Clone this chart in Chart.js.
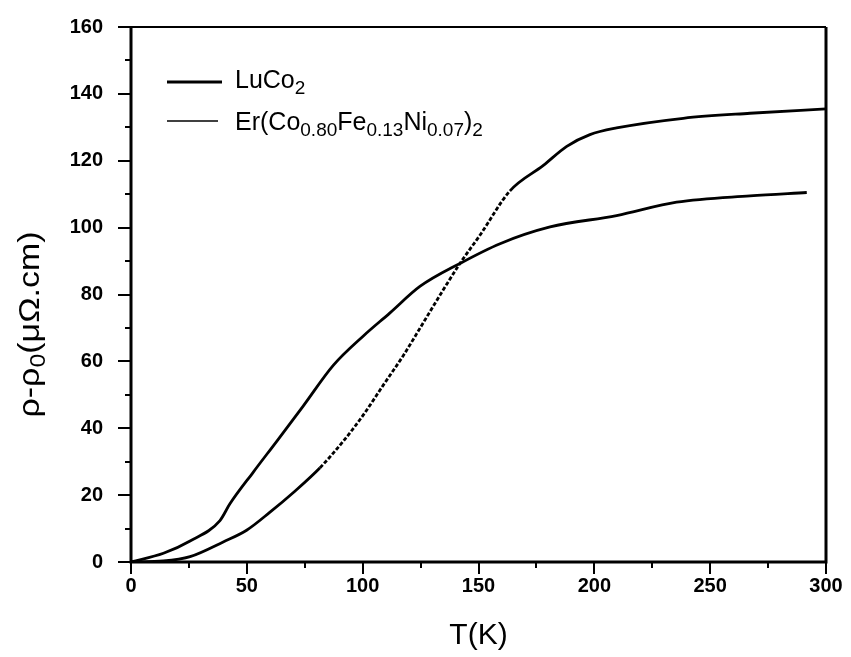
<!DOCTYPE html>
<html>
<head>
<meta charset="utf-8">
<script src="https://cdn.jsdelivr.net/npm/chart.js@4.4.0/dist/chart.umd.min.js"></script>
<style>
  html, body { margin: 0; padding: 0; background: #fff; }
  canvas { display: block; }
</style>
</head>
<body>
<canvas id="chart" width="851" height="657"></canvas>
<script>
// Temperature (K) and resistivity rho - rho0 (µΩ·cm) for each sample
const tempLuCo2 = [0, 14, 25.5, 38.4, 42.7, 52.8, 62.9, 74.4, 87.3, 100.3, 111.8, 124.7, 142, 159.3, 180.9, 209.6, 235.5, 267.2, 291.7];
const rhoLuCo2  = [0, 2.6, 6.3, 12.4, 17.4, 26.9, 36.1, 46.7, 58.8, 67.6, 74.5, 82.4, 89.3, 95.2, 100.2, 103.6, 107.6, 109.5, 110.5];

const tempEr = [0, 14, 25.5, 39.8, 49.9, 60, 70.1, 81.6, 91.6, 100.3, 108.9, 117.5, 126.2, 134.8, 142, 150.6, 163.6, 178, 188.1, 198.1, 209.6, 238.4, 267.2, 300];
const rhoEr  = [0, 0.3, 1.6, 6.0, 9.5, 14.9, 20.8, 28.2, 36.1, 44, 52.9, 61.7, 71.6, 81.4, 89.3, 97.7, 111, 118.6, 124.3, 127.8, 129.8, 132.7, 134.2, 135.5];

// Axis ranges and tick spacing
const xRange = [0, 300];
const yRange = [0, 160];
const xMajorStep = 50, xMinorStep = 25;
const yMajorStep = 20, yMinorStep = 10;

// Series names, written as text runs (sub = subscript)
const nameLuCo2 = [{ t: 'LuCo' }, { t: '2', sub: true }];
const nameEr = [
  { t: 'Er(Co' }, { t: '0.80', sub: true }, { t: 'Fe' }, { t: '0.13', sub: true },
  { t: 'Ni' }, { t: '0.07', sub: true }, { t: ')' }, { t: '2', sub: true }
];
const yTitle = [{ t: 'ρ-ρ' }, { t: '0', sub: true }, { t: '(μΩ.cm)' }];
const xTitle = 'T(K)';

const toPoints = (xs, ys) => xs.map((x, i) => ({ x: x, y: ys[i] }));

const FONT = '"Liberation Sans", Arial, Helvetica, sans-serif';

// Width of a run of text with subscripts
function richWidth(ctx, parts, size, subSize) {
  let w = 0;
  for (const p of parts) {
    ctx.font = (p.sub ? subSize : size) + 'px ' + FONT;
    w += ctx.measureText(p.t).width;
  }
  return w;
}
// Draw a run of text with subscripts; returns the total advance width
function drawRich(ctx, parts, x, y, size, subSize, subShift) {
  let cx = x;
  for (const p of parts) {
    ctx.font = (p.sub ? subSize : size) + 'px ' + FONT;
    ctx.fillText(p.t, cx, p.sub ? y + subShift : y);
    cx += ctx.measureText(p.t).width;
  }
  return cx - x;
}

// Frame, tick marks, axis titles and legend
const decorations = {
  id: 'decorations',
  afterDraw(chart) {
    const ctx = chart.ctx;
    const a = chart.chartArea;
    const xs = chart.scales.x, ys = chart.scales.y;
    ctx.save();
    ctx.strokeStyle = '#000';
    ctx.fillStyle = '#000';
    ctx.lineCap = 'butt';

    // box frame
    ctx.lineWidth = 3;
    ctx.beginPath();
    ctx.moveTo(a.left, a.top); ctx.lineTo(a.left, a.bottom);
    ctx.lineTo(a.right, a.bottom); ctx.lineTo(a.right, a.top);
    ctx.stroke();
    ctx.lineWidth = 2;
    ctx.beginPath();
    ctx.moveTo(a.left, a.top); ctx.lineTo(a.right, a.top);
    ctx.stroke();

    // outward ticks on bottom and left axes
    ctx.lineWidth = 2;
    for (let v = xRange[0]; v <= xRange[1]; v += xMinorStep) {
      const px = Math.round(xs.getPixelForValue(v));
      const len = (v % xMajorStep === 0) ? 12 : 6;
      ctx.beginPath(); ctx.moveTo(px, a.bottom); ctx.lineTo(px, a.bottom + len); ctx.stroke();
    }
    for (let v = yRange[0]; v <= yRange[1]; v += yMinorStep) {
      const py = Math.round(ys.getPixelForValue(v));
      const len = (v % yMajorStep === 0) ? 13 : 6;
      ctx.beginPath(); ctx.moveTo(a.left, py); ctx.lineTo(a.left - len, py); ctx.stroke();
    }

    // x axis title
    ctx.textAlign = 'center';
    ctx.textBaseline = 'alphabetic';
    ctx.font = '30px ' + FONT;
    ctx.fillText(xTitle, (a.left + a.right) / 2, 644);

    // y axis title, rotated and stretched along its length
    ctx.textAlign = 'left';
    ctx.save();
    ctx.translate(39, (a.top + a.bottom) / 2 + 30);
    ctx.rotate(-Math.PI / 2);
    const tw = richWidth(ctx, yTitle, 30, 22);
    const stretch = 186 / tw;
    ctx.scale(stretch, 1);
    drawRich(ctx, yTitle, -tw / 2, 0, 30, 22, 6);
    ctx.restore();

    // legend
    ctx.lineWidth = 2.8;
    ctx.beginPath(); ctx.moveTo(167, 82); ctx.lineTo(222, 82); ctx.stroke();
    ctx.lineWidth = 1.6;
    ctx.beginPath(); ctx.moveTo(167, 121); ctx.lineTo(218, 121); ctx.stroke();
    drawRich(ctx, nameLuCo2, 235, 88, 25, 19, 6);
    drawRich(ctx, nameEr, 235, 130, 25, 19, 6);

    ctx.restore();
  }
};

// dashed stretch of the Er curve through its steep rise
const erDash = (c) => (c.p0.parsed.x >= 80 && c.p1.parsed.x <= 164) ? [4, 2] : undefined;

new Chart(document.getElementById('chart'), {
  type: 'line',
  data: {
    datasets: [
      {
        label: 'LuCo2',
        data: toPoints(tempLuCo2, rhoLuCo2),
        borderColor: '#000',
        borderWidth: 2.8,
        pointRadius: 0,
        cubicInterpolationMode: 'monotone',
        fill: false
      },
      {
        label: 'Er(Co0.80Fe0.13Ni0.07)2',
        data: toPoints(tempEr, rhoEr),
        borderColor: '#000',
        borderWidth: 2.8,
        pointRadius: 0,
        cubicInterpolationMode: 'monotone',
        fill: false,
        segment: { borderDash: erDash }
      }
    ]
  },
  options: {
    responsive: false,
    animation: false,
    layout: { padding: { top: 21, right: 25, left: 0, bottom: 0 } },
    plugins: { legend: { display: false }, tooltip: { enabled: false } },
    scales: {
      x: {
        type: 'linear',
        min: xRange[0], max: xRange[1],
        border: { display: false },
        grid: { drawOnChartArea: false, color: 'transparent', tickLength: 12 },
        ticks: {
          stepSize: xMinorStep,
          autoSkip: false,
          maxRotation: 0,
          padding: 0,
          color: '#000',
          font: { family: FONT, size: 20, weight: 'bold' },
          callback: (v) => (v % xMajorStep === 0 ? String(v) : '')
        },
        afterFit: (s) => { s.height = 95; }
      },
      y: {
        type: 'linear',
        min: yRange[0], max: yRange[1],
        border: { display: false },
        grid: { drawOnChartArea: false, color: 'transparent', tickLength: 13 },
        ticks: {
          stepSize: yMinorStep,
          autoSkip: false,
          padding: 15,
          color: '#000',
          font: { family: FONT, size: 20, weight: 'bold' },
          callback: (v) => (v % yMajorStep === 0 ? String(v) : '')
        },
        afterFit: (s) => { s.width = 131; }
      }
    }
  },
  plugins: [decorations]
});
</script>
</body>
</html>
